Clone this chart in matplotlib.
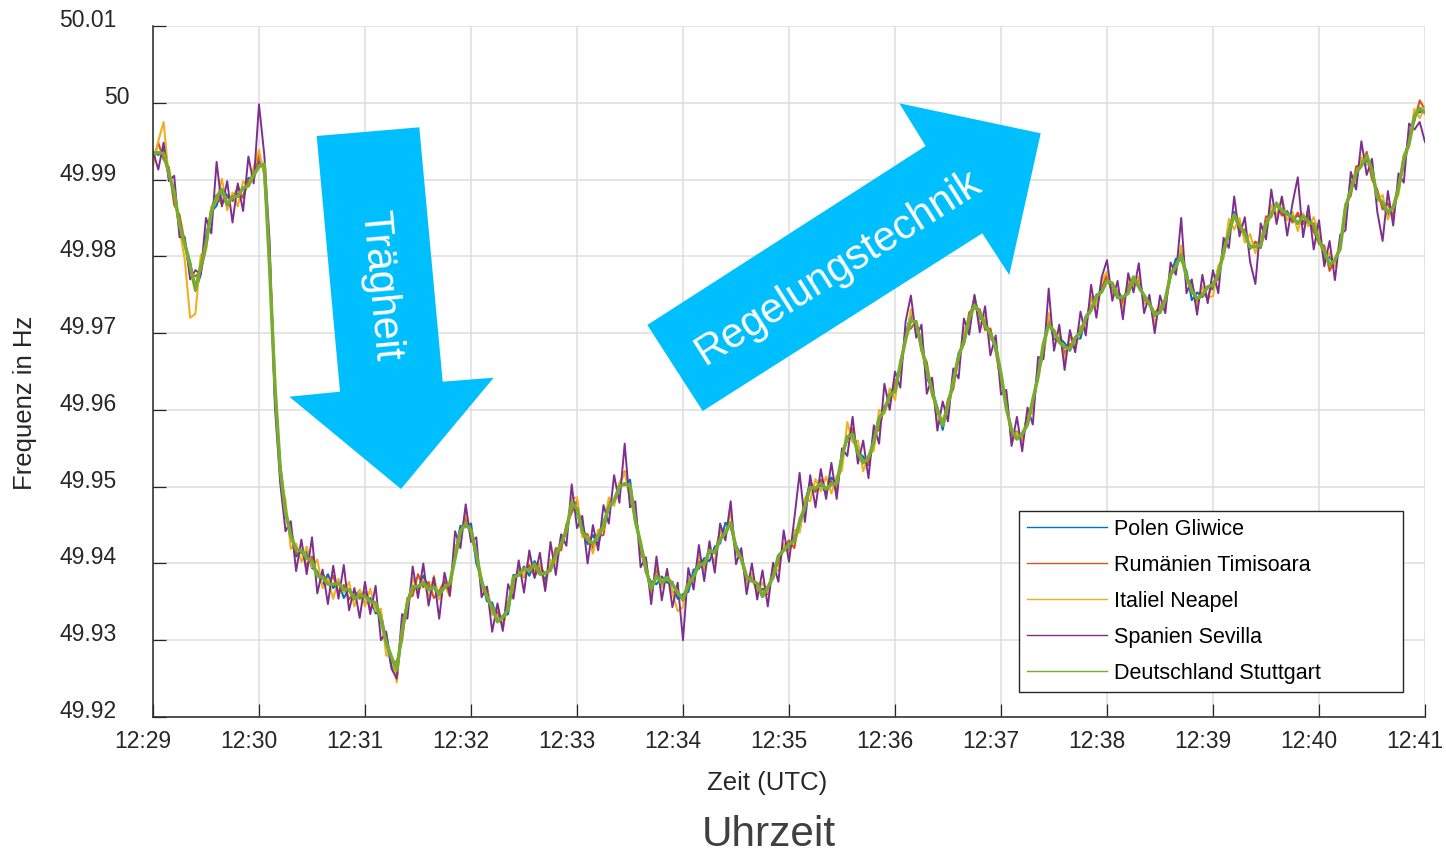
import numpy as np
import matplotlib
matplotlib.use("Agg")
import matplotlib.pyplot as plt
from matplotlib.patches import Polygon
from matplotlib.lines import Line2D
from matplotlib.transforms import ScaledTranslation

plt.rcParams['font.family'] = ['Liberation Sans', 'DejaVu Sans']

W, H = 1446, 855

# ---------------------------------------------------------------------------
# Data: grid frequency, sampled every 3 s (0.05 min) from 12:29:00 to 12:41:00.
# Values in mHz above 49.9 Hz. A common trace plus each station's deviation.
# ---------------------------------------------------------------------------
minutes = np.arange(241) * 0.05

common_mhz = [
    93.2, 93.8, 93.0, 91.0, 88.0, 84.5, 81.5, 78.5, 76.0, 78.5, 82.0, 85.5, 87.8, 88.3, 87.0, 87.6, 88.0, 88.5, 89.5, 90.5,
    91.9, 91.7, 79.0, 62.9, 52.0, 47.0, 43.5, 42.0, 41.3, 40.8, 40.0, 38.8, 38.0, 37.6, 37.2, 37.0, 36.8, 36.3, 35.8, 35.7,
    35.4, 35.2, 34.5, 33.0, 29.6, 27.5, 26.5, 31.0, 35.0, 36.6, 37.3, 37.3, 37.0, 36.6, 36.2, 36.8, 37.0, 41.0, 44.0, 45.2,
    44.6, 40.8, 37.8, 35.6, 33.9, 32.8, 32.8, 34.3, 37.8, 38.6, 39.1, 39.4, 39.5, 38.8, 38.4, 39.6, 41.0, 42.2, 44.5, 47.5,
    47.0, 44.5, 42.8, 42.8, 43.2, 45.0, 47.2, 48.5, 49.6, 50.6, 49.8, 46.0, 42.5, 39.0, 37.0, 38.2, 37.8, 37.8, 37.4, 36.0,
    35.7, 37.0, 38.4, 39.5, 40.2, 41.3, 41.6, 43.0, 44.4, 45.0, 42.2, 40.2, 38.6, 37.6, 37.2, 36.1, 36.6, 38.4, 40.6, 41.8,
    42.2, 43.0, 45.2, 47.8, 49.6, 50.0, 50.0, 50.0, 50.2, 50.6, 53.5, 56.8, 56.6, 54.8, 53.0, 53.5, 56.0, 58.5, 60.2, 61.7,
    62.6, 65.5, 69.5, 71.6, 71.2, 68.5, 65.0, 62.5, 59.6, 58.3, 60.5, 63.8, 66.6, 69.0, 71.6, 74.0, 72.5, 71.3, 69.8, 67.8,
    64.5, 60.5, 57.0, 56.4, 56.8, 58.5, 61.0, 64.5, 68.2, 71.2, 70.0, 69.2, 68.0, 68.2, 69.0, 70.2, 71.8, 73.3, 74.4, 75.6,
    76.9, 76.2, 75.0, 74.5, 75.5, 76.9, 76.2, 74.8, 73.5, 72.8, 72.5, 74.5, 77.2, 79.0, 80.0, 77.7, 75.2, 74.7, 74.9, 75.6,
    76.0, 77.8, 80.5, 83.5, 85.0, 84.3, 82.8, 81.3, 81.0, 81.8, 84.0, 85.8, 86.4, 86.2, 85.4, 84.8, 84.7, 85.0, 84.8, 83.8,
    82.3, 80.5, 79.3, 79.2, 81.2, 86.0, 88.8, 90.6, 92.2, 93.0, 91.0, 88.0, 86.6, 86.0, 86.0, 89.0, 92.2, 95.0, 98.0, 99.5,
    98.6,
]

dev_gliwice = [
    0.4, -0.6, 0.9, -0.3, 0.7, -1.1, 0.2, 0.8, -0.5, -0.9, 0.6, 0.3, -1.2, 0.5, 0.9, -0.4, 0.1, -0.8, 0.7, -0.2,
    0.5, -0.3, 1.2, -0.8, 0.6, -0.5, 0.9, -1.1, 0.3, 0.7, -0.6, 0.2, -0.9, 1.0, -0.4, 0.6, -1.3, 0.4, -0.2, 0.8,
    -0.7, 0.3, -1.0, 0.6, 0.2, -0.9, -1.4, 0.8, -0.3, 0.5, -0.6, 1.1, -0.2, 0.4, -0.8, 0.7, -0.5, 0.3, 0.9, -0.4,
    0.6, -0.8, 0.2, -0.5, 1.0, -0.3, 0.4, -0.9, 0.7, -0.2, 0.5, -1.0, 0.8, 0.3, -0.6, 0.4, -0.2, 0.9, -0.7, 0.2,
    -0.5, 0.7, -0.3, 0.9, -0.8, 0.4, 0.1, -0.6, 0.8, -0.4, 1.1, -0.7, 0.3, -0.2, 0.6, -0.9, 0.5, -0.3, 0.2, -0.6,
    0.3, -0.7, 0.8, -0.2, 0.5, -1.0, 0.6, -0.4, 0.9, -0.3, 0.2, 0.7, -0.8, 0.4, -0.5, 0.6, -0.1, 0.8, -0.6, 0.3,
    -0.4, 0.6, -0.9, 0.3, 0.7, -0.5, 0.2, -0.8, 1.0, -0.3, 0.5, -0.6, 0.4, -0.2, 0.9, -0.7, 0.3, 0.6, -0.4, 0.2,
    0.7, -0.5, 0.3, 0.9, -0.6, 0.4, -0.8, 0.2, 0.6, -0.9, 0.5, -0.3, 0.8, -0.4, 0.1, 0.7, -0.6, 0.3, -0.5, 0.9,
    -0.6, 0.4, -0.2, 0.8, -0.7, 0.5, -0.4, 0.9, -0.3, 0.6, -0.8, 0.2, 0.7, -0.5, 0.3, -0.9, 0.4, -0.1, 0.6, -0.3,
    0.5, -0.8, 0.6, -0.2, 0.4, -0.7, 0.9, -0.4, 0.3, -0.6, 0.8, -0.3, 0.2, 0.7, -0.5, 0.4, -0.9, 0.6, -0.2, 0.5,
    -0.3, 0.7, -0.5, 0.2, 0.8, -0.6, 0.4, -0.3, 0.9, -0.7, 0.3, -0.4, 0.6, -0.8, 0.5, -0.2, 0.7, -0.5, 0.3, -0.6,
    0.4, -0.9, 0.6, -0.3, 0.5, -0.7, 0.8, -0.2, 0.4, -0.6, 0.7, -0.5, 0.3, -0.8, 0.6, -0.4, 0.9, -0.3, 0.5, -0.7,
    0.2,
]

dev_timisoara = [
    -0.8, 1.0, -0.4, 0.6, -1.3, 0.9, 0.3, -0.7, 1.4, -0.5, -1.0, 0.8, 0.2, -1.5, 0.7, -0.3, 1.1, -0.9, 0.4, -0.6,
    1.3, -0.9, 0.5, -1.2, 0.8, -0.4, 1.0, -0.7, 0.3, -1.1, 0.9, -0.5, 0.7, -0.2, 1.2, -0.8, 0.4, -1.0, 0.6, -0.3,
    0.9, -1.2, 0.4, -0.6, 1.1, -0.3, 0.7, -1.0, 0.5, -0.8, 1.3, -0.4, 0.6, -1.1, 0.2, 0.9, -0.7, 1.0, -0.5, 0.8,
    -1.0, 0.6, -0.8, 1.2, -0.4, 0.9, -1.1, 0.5, -0.3, 0.8, -0.9, 0.4, -1.2, 0.7, 0.3, -0.6, 1.0, -0.5, 0.6, -0.9,
    1.2, -0.6, 1.0, -0.9, 0.4, -1.3, 0.8, -0.4, 0.6, 1.4, -0.7, 0.9, -1.0, 0.5, -0.8, 1.1, -0.3, 0.7, -1.2, 0.4,
    -0.6, 1.0, -0.5, 0.8, -1.1, 0.6, -0.3, 1.2, -0.7, 0.4, -0.9, 0.9, -0.4, 0.7, -1.0, 0.5, -0.6, 1.1, -0.8, 0.3,
    0.8, -1.0, 0.6, -0.4, 1.1, -0.7, 0.9, -0.3, 0.5, -1.2, 0.7, -0.5, 1.0, -0.8, 0.4, -0.6, 0.9, -1.1, 0.3, -0.4,
    1.0, -0.5, 0.8, -1.0, 0.4, -0.8, 1.2, -0.6, 0.7, -0.3, 0.9, -1.1, 0.5, -0.4, 1.1, -0.7, 0.6, -0.9, 0.8, -0.2,
    -0.9, 1.1, -0.4, 0.7, -0.8, 1.0, -0.6, 0.5, -1.2, 0.8, -0.3, 0.9, -0.7, 0.4, -1.0, 0.6, -0.5, 1.2, -0.8, 0.3,
    0.7, -1.1, 0.5, -0.6, 0.9, -0.4, 1.0, -0.8, 0.6, -0.3, 1.1, -0.9, 0.4, -0.7, 0.8, -0.5, 1.2, -0.6, 0.3, -1.0,
    0.6, -0.8, 1.1, -0.5, 0.4, -1.0, 0.7, -0.3, 0.9, -0.6, 1.2, -0.7, 0.5, -0.9, 0.3, -0.4, 1.0, -0.8, 0.6, -0.5,
    -0.7, 0.9, -1.2, 0.5, -0.4, 0.8, -0.9, 1.1, -0.3, 0.6, -1.0, 0.7, -0.5, 0.9, -0.8, 0.4, -0.6, 1.0, -0.4, 0.8,
    0.5,
]

dev_neapel = [
    -1.4, 1.2, 4.5, -0.8, 1.0, -0.9, -2.0, -6.5, -3.5, 1.6, -1.2, 0.9, -0.6, 1.8, -1.0, 0.7, -1.5, 1.3, -0.4, 1.1,
    2.0, -1.3, 0.8, 1.5, -0.7, 1.2, -1.6, 0.6, -1.1, 1.4, -0.5, 1.7, -1.2, 0.4, -1.8, 1.0, -0.6, 1.3, -1.4, 0.9,
    -1.0, 1.5, -0.7, 1.1, -1.6, 0.5, -2.0, 1.2, -0.8, 1.6, -1.1, 0.6, -1.4, 1.8, -0.9, 0.4, -1.3, 1.0, -0.5, 1.5,
    -1.2, 0.8, -1.5, 1.3, -0.6, 1.7, -1.0, 0.5, -1.4, 1.1, -0.8, 1.6, -0.4, 1.2, -1.7, 0.9, -1.1, 1.4, -0.7, 1.0,
    1.6, -1.1, 0.7, -1.5, 1.2, -0.6, 1.4, -1.0, 0.9, 1.3, -1.6, 0.8, -0.5, 1.5, -1.2, 1.8, -0.9, 1.1, -1.3, -2.2,
    -1.4, 1.0, -0.8, 1.6, -1.2, 0.5, -1.5, 1.3, -0.7, 1.8, -1.0, 0.6, -1.3, 1.1, -0.9, 1.4, -0.4, 1.2, -1.6, 0.8,
    -0.9, 1.4, -1.2, 0.7, -1.5, 1.0, -0.6, 1.3, -1.1, 0.8, -1.4, 1.6, -0.8, 1.2, -1.0, 0.5, -1.3, 1.5, -0.7, 1.1,
    -1.3, 0.9, -0.7, 1.5, -1.1, 1.2, -0.8, 1.4, -1.6, 0.6, -1.0, 1.3, -0.5, 1.7, -1.2, 0.8, -1.4, 1.0, -0.6, 1.2,
    -1.0, 1.6, -1.3, 0.7, -0.9, 1.1, -1.5, 0.8, -1.2, 1.4, -0.6, 1.0, -1.6, 1.3, -0.8, 0.5, -1.1, 1.5, -0.9, 1.2,
    1.1, -1.2, 0.6, -1.4, 1.5, -0.8, 1.2, -1.0, 0.9, -1.6, 1.3, -0.7, 1.0, -1.1, 1.4, -0.5, 0.8, -1.3, 1.2, -0.9,
    -1.2, 1.0, -0.8, 1.4, -1.5, 0.7, -1.0, 1.6, -0.6, 1.2, -1.3, 0.9, -1.1, 1.5, -0.7, 1.0, -1.4, 0.6, -0.9, 1.3,
    0.8, -1.4, 1.2, -0.6, 1.0, -1.3, 1.5, -0.9, 0.7, -1.1, 1.3, -0.8, 1.4, -1.2, 0.6, -1.0, 1.1, -0.7, 1.2, -1.5,
    0.9,
]

dev_sevilla = [
    0.5, -2.5, 1.8, -1.2, 2.5, -2.0, 1.0, -1.5, 2.2, -0.8, 3.0, -2.5, 4.5, -1.8, 2.8, -3.2, 1.5, -2.6, 3.5, -1.0,
    7.9, 1.5, 3.0, -2.5, -1.5, -2.8, 2.0, -3.0, 1.8, -2.2, 3.4, -2.7, 1.2, -2.9, 2.5, -1.6, 3.0, -2.4, 1.0, -2.8,
    2.2, -1.8, 2.6, -3.0, 1.5, -1.2, -1.5, 2.4, -2.2, 3.0, -1.8, 2.7, -2.5, 1.6, -3.4, 2.0, -1.2, 3.2, -2.0, 2.5,
    -1.8, 2.6, -2.2, 1.4, -2.8, 2.0, -1.6, 3.0, -2.4, 1.8, -2.9, 2.3, -1.4, 2.6, -2.0, 3.2, -2.5, 1.6, -2.2, 2.8,
    -2.4, 1.7, -2.8, 2.2, -1.5, 2.6, -2.0, 3.0, -1.7, 5.0, -2.5, 2.1, -3.0, 1.8, -2.3, 2.7, -2.6, 1.5, -3.1, 1.5,
    -5.7, 2.4, -1.8, 2.9, -2.5, 1.6, -2.8, 2.2, -1.4, 3.1, -2.3, 1.8, -2.6, 2.4, -1.9, 3.0, -2.2, 1.7, -3.0, 2.5,
    -2.0, 2.8, 6.6, -2.4, 1.9, -2.7, 2.3, -1.6, 2.9, -2.2, 1.5, -2.8, 2.5, -1.8, 3.0, -2.4, 2.0, -2.9, 3.2, -1.7,
    2.4, -2.6, 2.0, 3.3, -1.8, 2.6, -2.9, 1.7, -2.3, 2.8, -2.0, 1.6, -2.5, 2.9, -1.8, 1.0, -2.4, 2.2, -2.7, 1.9,
    -2.5, 2.1, -1.7, 2.7, -2.2, 1.8, -2.9, 2.4, -1.6, 4.6, -2.3, 1.9, -2.8, 2.2, -1.5, 2.6, -2.1, 3.0, -2.4, 1.7,
    2.6, -2.0, 1.8, -2.7, 2.3, -1.6, 2.9, -2.2, 1.5, -2.8, 2.4, -1.9, 2.0, -1.4, 5.0, -2.5, 1.8, -2.3, 2.7, -1.7,
    2.2, -2.6, 1.9, -2.4, 2.8, -1.7, 2.3, -2.0, -4.6, 2.5, -1.8, 2.9, -2.2, 1.6, -2.7, 2.1, 5.6, -2.5, 1.8, -2.9,
    2.4, -1.8, 2.7, -2.3, 1.6, -2.6, 2.2, -1.9, 2.8, -2.4, 1.7, -2.2, -4.6, 2.5, -2.0, 1.8, -2.6, 2.3, -1.5, -2.0,
    -3.7,
]

dev_stuttgart = [
    0.2, -0.3, 0.4, -0.2, 0.3, -0.4, 0.1, 0.3, -0.3, 0.2, -0.4, 0.3, -0.1, 0.4, -0.3, 0.2, -0.2, 0.4, -0.3, 0.1,
    -0.2, 0.3, -0.4, 0.2, 0.4, -0.3, 0.1, -0.2, 0.4, -0.1, 0.3, -0.4, 0.2, -0.3, 0.1, 0.4, -0.2, 0.3, -0.4, 0.2,
    0.3, -0.2, 0.4, -0.3, 0.1, 0.3, -0.4, 0.2, -0.1, 0.4, -0.3, 0.2, -0.4, 0.3, -0.2, 0.1, 0.4, -0.3, 0.2, -0.1,
    -0.3, 0.4, -0.2, 0.1, 0.3, -0.4, 0.2, -0.3, 0.4, -0.1, 0.2, -0.3, 0.4, -0.2, 0.3, -0.4, 0.1, 0.3, -0.2, 0.4,
    0.1, -0.4, 0.3, -0.2, 0.4, -0.1, 0.2, -0.3, 0.4, -0.2, 0.3, -0.4, 0.1, 0.3, -0.3, 0.2, -0.4, 0.4, -0.1, 0.2,
    -0.4, 0.2, -0.1, 0.3, -0.3, 0.4, -0.2, 0.1, -0.4, 0.3, -0.2, 0.4, -0.3, 0.1, 0.2, -0.4, 0.3, -0.2, 0.4, -0.1,
    0.3, -0.1, 0.2, -0.4, 0.3, -0.2, 0.4, -0.3, 0.1, -0.2, 0.4, -0.3, 0.2, -0.4, 0.1, 0.3, -0.2, 0.4, -0.3, 0.2,
    -0.2, 0.4, -0.3, 0.1, 0.2, -0.4, 0.3, -0.1, 0.4, -0.3, 0.2, -0.2, 0.4, -0.1, 0.3, -0.4, 0.2, -0.3, 0.1, 0.4,
    0.2, -0.3, 0.4, -0.2, 0.1, -0.4, 0.3, -0.2, 0.4, -0.1, 0.3, -0.4, 0.2, -0.3, 0.4, -0.1, 0.2, -0.3, 0.4, -0.2,
    -0.1, 0.3, -0.4, 0.2, -0.3, 0.4, -0.2, 0.1, 0.3, -0.4, 0.2, -0.1, 0.4, -0.3, 0.2, -0.4, 0.3, -0.2, 0.1, 0.4,
    0.3, -0.2, 0.1, -0.4, 0.4, -0.3, 0.2, -0.1, 0.3, -0.4, 0.2, -0.3, 0.4, -0.2, 0.1, 0.3, -0.4, 0.2, -0.3, 0.4,
    -0.3, 0.2, -0.4, 0.3, -0.1, 0.4, -0.2, 0.3, -0.4, 0.1, 0.2, -0.3, 0.4, -0.2, 0.3, -0.1, 0.4, -0.3, 0.2, -0.2,
    0.1,
]

station_names = ["Polen Gliwice", "Rumänien Timisoara", "Italiel Neapel",
                 "Spanien Sevilla", "Deutschland Stuttgart"]
station_devs = [dev_gliwice, dev_timisoara, dev_neapel, dev_sevilla, dev_stuttgart]
station_colors = ["#0072BD", "#D95319", "#EDB120", "#7E2F8E", "#77AC30"]
station_widths = [1.5, 1.5, 1.5, 1.4, 2.5]

x_tick_labels = ["12:29", "12:30", "12:31", "12:32", "12:33", "12:34", "12:35",
                 "12:36", "12:37", "12:38", "12:39", "12:40", "12:41"]
y_ticks = [49.92, 49.93, 49.94, 49.95, 49.96, 49.97, 49.98, 49.99, 50.00, 50.01]
y_tick_labels = ["49.92", "49.93", "49.94", "49.95", "49.96", "49.97", "49.98",
                 "49.99", "50", "50.01"]

INK = "#262626"
ARROW = "#00BFFF"


def fig_xy(x, y):
    """Pixel position (origin top-left) to figure fraction."""
    return (x / W, 1 - y / H)


fig = plt.figure(figsize=(W / 100, H / 100), dpi=100)
ax = fig.add_axes([153 / W, 1 - 717 / H, (1425 - 153) / W, (717 - 26) / H])

common = np.asarray(common_mhz)
for name, dev, col, lw in zip(station_names, station_devs, station_colors, station_widths):
    freq = 49.9 + (common + np.asarray(dev)) / 1000.0
    ax.plot(minutes, freq, color=col, lw=lw, solid_joinstyle="round", zorder=2)

ax.set_xlim(0, 12)
ax.set_ylim(49.92, 50.01)
ax.set_xticks(np.arange(len(x_tick_labels)))
ax.set_xticklabels(x_tick_labels)
ax.set_yticks(y_ticks)
ax.set_yticklabels(y_tick_labels)

ax.grid(True, color="#dedede", lw=1.1, zorder=0)
ax.set_axisbelow(True)
for side in ("top", "right"):
    ax.spines[side].set_visible(False)
for side in ("left", "bottom"):
    ax.spines[side].set_color(INK)
    ax.spines[side].set_linewidth(1.1)

ax.tick_params(axis="both", direction="in", length=9.5, width=0.9, color=INK,
               labelcolor=INK, labelsize=16.5)
ax.tick_params(axis="y", pad=26)
ax.tick_params(axis="x", pad=9)

# tick labels sit slightly up / left of their ticks
up = ScaledTranslation(0, 8 / 100, fig.dpi_scale_trans)
left = ScaledTranslation(-10 / 100, 0, fig.dpi_scale_trans)
for lbl in ax.get_yticklabels():
    lbl.set_transform(lbl.get_transform() + up)
    if lbl.get_text() == "50":
        lbl.set_transform(lbl.get_transform() + ScaledTranslation(13 / 100, 0, fig.dpi_scale_trans))
for lbl in ax.get_xticklabels():
    lbl.set_transform(lbl.get_transform() + left)

# axis titles
fig.text(*fig_xy(25, 403), "Frequenz in Hz", rotation=90, ha="center", va="center",
         fontsize=18.5, color=INK)
fig.text(*fig_xy(767, 783), "Zeit (UTC)", ha="center", va="center",
         fontsize=18.5, color=INK)
fig.text(*fig_xy(769, 835), "Uhrzeit", ha="center", va="center",
         fontsize=30.5, color="#404040")

# legend
handles = [Line2D([], [], color=c, lw=1.0) for c in station_colors]
leg = ax.legend(handles, station_names, loc="upper left",
                bbox_to_anchor=(1019 / W, 1 - 694 / H, (1403 - 1019) / W, (694 - 511) / H),
                bbox_transform=fig.transFigure, mode="expand", borderaxespad=0,
                fontsize=15.5, handlelength=3.72, handletextpad=0.33,
                borderpad=0.36, labelspacing=0.7, fancybox=False, framealpha=1)
leg.get_frame().set_edgecolor(INK)
leg.get_frame().set_linewidth(1.0)
for t in leg.get_texts():
    t.set_color("black")

# annotation arrows
down_arrow = [(316.7, 136), (419.3, 127.3), (442.7, 381.7), (493.7, 377.7),
              (401, 489), (289.3, 396.7), (340, 391.7)]
up_arrow = [(702.7, 411), (647.3, 325), (925.7, 146), (899.3, 103.3),
            (1040.7, 133.3), (1009.3, 275), (982.3, 233.3)]
for shape in (down_arrow, up_arrow):
    fig.add_artist(Polygon([fig_xy(x, y) for x, y in shape], closed=True,
                           transform=fig.transFigure, facecolor=ARROW,
                           edgecolor="none", zorder=5))

fig.text(*fig_xy(380, 285), "Trägheit", rotation=-84.8, rotation_mode="anchor",
         ha="center", va="center", fontsize=30, color="white", zorder=6)
fig.text(*fig_xy(838, 268), "Regelungstechnik", rotation=32.4, rotation_mode="anchor",
         ha="center", va="center", fontsize=30, color="white", zorder=6)

fig.savefig("out.png", dpi=100, facecolor="white")
